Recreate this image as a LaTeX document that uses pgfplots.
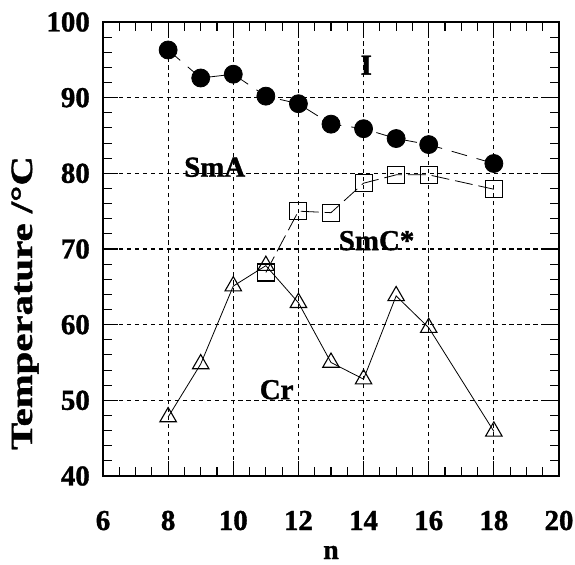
\documentclass[border=0pt]{standalone}
\usepackage{pgfplots}
\pgfplotsset{compat=1.18}
\usepackage{fontspec}
\setmainfont{Liberation Serif}[BoldFeatures={FakeBold=1.2}]
\begin{document}
\begin{tikzpicture}[x=1bp,y=1bp]
\path[use as bounding box] (-103bp,-89bp) rectangle (472bp,476bp);
\begin{axis}[
  at={(0,0)}, anchor=south west,
  scale only axis,
  width=456bp, height=454bp,
  xmin=6, xmax=20, ymin=40, ymax=100,
  xtick={6,8,...,20}, ytick={40,50,...,100},
  xticklabels={6,8,10,12,14,16,18,20},
  yticklabels={40,50,60,70,80,90,100},
  minor x tick num=3, minor y tick num=4,
  tick align=inside,
  xtick pos=both, ytick pos=both,
  major tick length=15bp, minor tick length=9bp,
  every tick/.style={black, line width=1.1pt},
  axis line style={line width=1.8pt},
  grid=major,
  major grid style={black, line width=1.1pt, dash pattern=on 4.5pt off 3.5pt},
  tick label style={font=\fontsize{29}{32}\selectfont\bfseries},
  xticklabel style={anchor=base, yshift=-54bp},
  yticklabel style={anchor=east, inner sep=0pt, xshift=-13bp},
  xlabel={n},
  xlabel style={font=\fontsize{28}{30}\selectfont\bfseries, at={(axis description cs:0.5,0)}, anchor=base, yshift=-83bp},
  ylabel={\scalebox{1.32}[1]{Temperature /°C}},
  ylabel style={font=\fontsize{31}{34}\selectfont\bfseries, at={(axis description cs:-0.171,0.381)}, anchor=center},
  clip=false,
]
\addplot[black, line width=0.8pt, dash pattern=on 16pt off 10pt, mark=*, mark size=9bp, mark options={solid, fill=black}]
coordinates {(8,96.3) (9,92.6) (10,93.1) (11,90.2) (12,89.2) (13,86.5) (14,85.9) (15,84.6) (16,83.8) (18,81.3)};
\addplot[black, line width=0.8pt, dash pattern=on 18pt off 6pt, mark=square, mark size=8.5bp, mark options={solid, line width=1.1pt}]
coordinates {(11,66.9) (12,75.0) (13,74.8) (14,78.7) (15,79.8) (16,79.8) (18,77.9)};
\addplot[black, line width=0.8pt, mark=triangle, mark size=9.5bp, mark options={solid, line width=1.1pt}]
coordinates {(8,47.8) (9,54.8) (10,65.1) (11,67.8) (12,62.9) (13,55.0) (14,52.8) (15,63.8) (16,59.6) (18,45.9)};
\node[font=\fontsize{29}{32}\selectfont\bfseries] at (axis cs:14.08,94.3) {I};
\node[font=\fontsize{29}{32}\selectfont\bfseries] at (axis cs:9.43,80.8) {SmA};
\node[font=\fontsize{29}{32}\selectfont\bfseries] at (axis cs:14.4,71.1) {SmC*};
\node[font=\fontsize{29}{32}\selectfont\bfseries] at (axis cs:11.33,51.4) {Cr};
\end{axis}
\end{tikzpicture}
\end{document}
